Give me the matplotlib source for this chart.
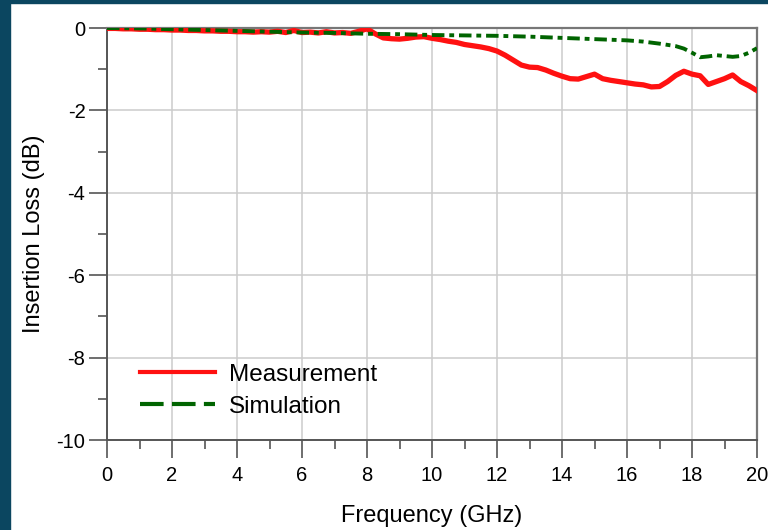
import numpy as np
import matplotlib
matplotlib.use("Agg")
import matplotlib.pyplot as plt
from matplotlib.lines import Line2D
from matplotlib.patches import Rectangle

plt.rcParams['font.family'] = ['Liberation Sans', 'DejaVu Sans']
plt.rcParams['lines.scale_dashes'] = False
plt.rcParams['axes.unicode_minus'] = False

# measured insertion loss, read every 0.25 GHz
meas_f = np.arange(0, 20.01, 0.25)
meas_db = [-0.01, -0.01, -0.02, -0.02, -0.03, -0.03, -0.04, -0.04,
           -0.05, -0.05, -0.06, -0.06, -0.07, -0.07, -0.08, -0.08,
           -0.09, -0.09, -0.10, -0.09, -0.10, -0.08, -0.11, -0.06,
           -0.11, -0.10, -0.12, -0.09, -0.12, -0.11, -0.13, -0.08,
           -0.02, -0.14, -0.24, -0.26, -0.27, -0.25, -0.22, -0.21,
           -0.25, -0.28, -0.32, -0.35, -0.40, -0.43, -0.46, -0.50,
           -0.56, -0.66, -0.78, -0.90, -0.95, -0.96, -1.02, -1.10,
           -1.17, -1.23, -1.24, -1.18, -1.12, -1.23, -1.27, -1.30,
           -1.33, -1.36, -1.38, -1.43, -1.42, -1.30, -1.15, -1.05,
           -1.12, -1.16, -1.37, -1.30, -1.23, -1.14, -1.30, -1.40,
           -1.52]

# simulated insertion loss
sim_f = [0, 1, 2, 3, 4, 5, 6, 7, 8, 9, 10, 11, 12, 13, 14, 15, 16, 16.5,
         17, 17.5, 17.75, 18, 18.25, 18.5, 18.75, 19, 19.25, 19.5, 19.75, 20]
sim_db = [0, -0.01, -0.03, -0.05, -0.07, -0.09, -0.11, -0.12, -0.14, -0.15,
          -0.17, -0.18, -0.19, -0.21, -0.24, -0.27, -0.30, -0.33, -0.38,
          -0.44, -0.50, -0.60, -0.71, -0.69, -0.66, -0.68, -0.70, -0.68,
          -0.60, -0.49]

fig = plt.figure(figsize=(7.68, 5.30), dpi=100)
fig.patch.set_facecolor('white')
frame = '#0b4660'
fig.patches.append(Rectangle((0, 0), 10 / 768, 1, transform=fig.transFigure,
                             color=frame, zorder=-1))
fig.patches.append(Rectangle((0, 1 - 3 / 530), 1, 3 / 530,
                             transform=fig.transFigure, color=frame, zorder=-1))

ax = fig.add_axes([107 / 768, 90 / 530, 650 / 768, 412 / 530])

ax.plot(meas_f, meas_db, color='#ff1111', lw=3.8, solid_joinstyle='round', zorder=3)
ax.plot(sim_f, sim_db, color='#006400', lw=2.8, dashes=(9, 3.5, 3.5, 3.5), zorder=4)

ax.set_xlim(0, 20)
ax.set_ylim(-10, 0)
ax.set_xticks(range(0, 21, 2))
ax.set_xticks(range(1, 20, 2), minor=True)
ax.set_yticks(range(-10, 1, 2))
ax.set_yticks(range(-9, 0, 2), minor=True)
ax.grid(True, which='major', color='#cccccc', lw=1.1, zorder=0)

for side in ['left', 'bottom']:
    ax.spines[side].set_color('#555555')
    ax.spines[side].set_linewidth(1.4)
for side in ['top', 'right']:
    ax.spines[side].set_color('#777777')
    ax.spines[side].set_linewidth(1.6)

ax.tick_params(which='major', direction='out', length=13, width=1.2,
               color='#555555', labelsize=14.5)
ax.tick_params(axis='x', which='major', pad=6)
ax.tick_params(axis='y', which='major', pad=2.5)
ax.tick_params(which='minor', direction='out', length=6.5, width=1.2,
               color='#555555')

ax.set_xlabel('Frequency (GHz)', fontsize=17, labelpad=14)
ax.set_ylabel('Insertion Loss (dB)', fontsize=17, labelpad=8)

handles = [Line2D([], [], color='#ff1111', lw=3),
           Line2D([], [], color='#006400', lw=3, dashes=(17, 6))]
ax.legend(handles, ['Measurement', 'Simulation'], loc='lower left',
          bbox_to_anchor=(0.036, 0.03), borderaxespad=0, frameon=False,
          fontsize=17.5, handlelength=3.1, handletextpad=0.55, labelspacing=0.42)

fig.savefig('out.png', dpi=100, facecolor='white')
